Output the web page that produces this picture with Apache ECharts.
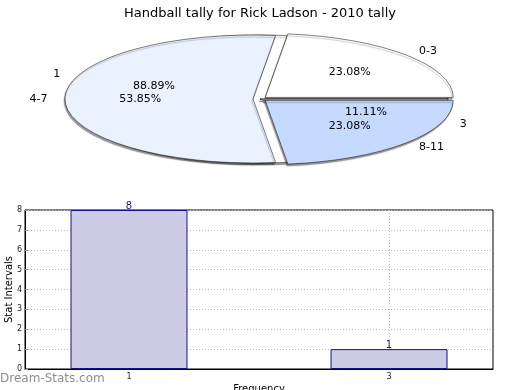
<!DOCTYPE html>
<html><head><meta charset="utf-8">
<script src="https://cdn.jsdelivr.net/npm/echarts@6/dist/echarts.min.js"></script>
<style>html,body{margin:0;padding:0;background:#fff}#c{width:520px;height:390px}</style>
</head><body><div id="c"></div>
<script>
const titleText = 'Handball tally for Rick Ladson - 2010 tally';
// pie 1 (frequency)
const freqNames = ['1', '3'];
const freqValues = [8, 1];
// pie 2 (stat intervals)
const intervalNames = ['0-3', '4-7', '8-11'];
const intervalValues = [3, 7, 3];
// bar chart
const barX = [1, 3];
const barY = [8, 1];
const xTickValues = [1, 3];
const yMin = 0, yMax = 8, yStep = 1;

const FONT = 'DejaVu Sans';
const PIE = { cx: 260, cy: 99, rx: 188, ry: 64, inner: 0.6, outer: 1.13 };

function pieRender(names, values, colors, explode, zBase) {
  const total = values.reduce((a, b) => a + b, 0);
  return function (params, api) {
    const i = params.dataIndex;
    let before = 0;
    for (let k = 0; k < i; k++) before += values[k];
    const a0 = before / total * 2 * Math.PI;
    const a1 = (before + values[i]) / total * 2 * Math.PI;
    const mid = (a0 + a1) / 2;
    const ratio = PIE.ry / PIE.rx;
    const ex = explode * Math.cos(mid), ey = -explode * Math.sin(mid);
    const pct = (values[i] / total * 100).toFixed(2) + '%';
    const c = Math.cos(mid), s = Math.sin(mid);
    const children = [];
    children.push({
      type: 'group', x: PIE.cx, y: PIE.cy, scaleY: ratio, z2: zBase,
      children: [{
        type: 'sector', z2: zBase,
        shape: { cx: ex, cy: ey, r: PIE.rx, r0: 0, startAngle: -a0, endAngle: -a1, clockwise: false },
        style: { fill: colors[i], stroke: '#111', lineWidth: 0.8, strokeNoScale: true,
          shadowBlur: 1, shadowColor: 'rgba(0,0,0,0.4)', shadowOffsetX: -1, shadowOffsetY: 2 }
      }]
    });
    children.push({
      type: 'text', z2: 50,
      x: PIE.cx + ex + PIE.inner * PIE.rx * c,
      y: PIE.cy + ey * ratio - PIE.inner * PIE.ry * s,
      style: { text: pct, fill: '#000', fontFamily: FONT, fontSize: 11, align: 'center', verticalAlign: 'middle' }
    });
    children.push({
      type: 'text', z2: 50,
      x: PIE.cx + PIE.outer * PIE.rx * c,
      y: PIE.cy - PIE.outer * PIE.ry * s,
      style: { text: names[i], fill: '#000', fontFamily: FONT, fontSize: 11,
        align: c < 0 ? 'right' : 'left', verticalAlign: 'middle' }
    });
    return { type: 'group', children: children };
  };
}

const chart = echarts.init(document.getElementById('c'), null, { renderer: 'canvas' });
chart.setOption({
  animation: false,
  backgroundColor: '#fff',
  textStyle: { fontFamily: FONT },
  title: { text: titleText, left: 'center', top: 2,
    textStyle: { fontFamily: FONT, fontSize: 13, fontWeight: 'normal', color: '#000' } },
  graphic: [{ type: 'text', left: 0, top: 373,
    style: { text: 'Dream-Stats.com', fontFamily: FONT, fontSize: 12, fill: '#8e8e8e' } }],
  grid: { left: 25, right: 27, top: 210, bottom: 21, show: true, borderColor: '#000', borderWidth: 1,
    containLabel: false, outerBoundsMode: 'none' },
  xAxis: {
    type: 'value', min: 0.2, max: 3.8,
    name: 'Frequency', nameLocation: 'middle', nameGap: 15, nameMoveOverlap: false,
    nameTextStyle: { fontFamily: FONT, fontSize: 10, color: '#000' },
    axisLine: { lineStyle: { color: '#000', width: 1 } },
    axisTick: { show: true, inside: true, length: 3, lineStyle: { color: '#999' }, customValues: xTickValues },
    axisLabel: { customValues: xTickValues, fontSize: 8, color: '#222', margin: 4,
      formatter: v => String(v) },
    splitLine: { show: true, lineStyle: { color: '#bbb', type: [1, 2], width: 1 } }
  },
  yAxis: {
    type: 'value', min: yMin, max: yMax, interval: yStep,
    name: 'Stat Intervals', nameLocation: 'middle', nameGap: 11, nameMoveOverlap: false,
    nameTextStyle: { fontFamily: FONT, fontSize: 10, color: '#000' },
    axisLine: { show: true, lineStyle: { color: '#000', width: 1 } },
    axisTick: { show: true, inside: true, length: 3, lineStyle: { color: '#999' } },
    axisLabel: { fontSize: 8, color: '#222', margin: 3 },
    splitLine: { show: true, lineStyle: { color: '#bbb', type: [1, 2], width: 1 } }
  },
  series: [
    {
      type: 'custom', coordinateSystem: 'none', z: 2,
      data: freqValues.map((v, i) => ({ name: freqNames[i], value: v })),
      renderItem: pieRender(freqNames, freqValues, ['#ffffff', '#eaf1ff'], 0, 1)
    },
    {
      type: 'custom', coordinateSystem: 'none', z: 2,
      data: intervalValues.map((v, i) => ({ name: intervalNames[i], value: v })),
      renderItem: pieRender(intervalNames, intervalValues, ['#ffffff', '#eaf1ff', '#c6d9ff'], 7, 5)
    },
    {
      type: 'bar', barWidth: 117,
      data: barX.map((x, i) => [x, barY[i]]),
      itemStyle: { color: '#ccccE6', borderColor: '#10108a', borderWidth: 1 },
      label: { show: true, position: 'top', distance: -1, color: '#1a1a8c', fontSize: 10, fontFamily: FONT }
    }
  ]
});
</script>
</body></html>
